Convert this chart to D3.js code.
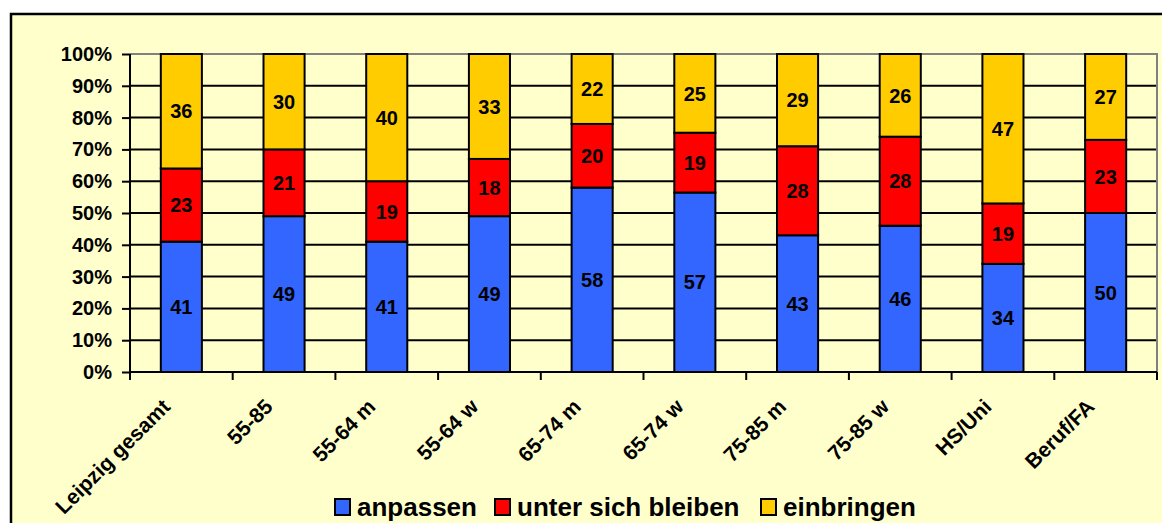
<!DOCTYPE html>
<html>
<head>
  <meta charset="utf-8">
  <script src="https://cdnjs.cloudflare.com/ajax/libs/d3/7.8.5/d3.min.js"></script>
  <title>Stacked bars</title>
  <style>
    body { margin: 0; background: #fff; }
    text { font-family: "Liberation Sans", Arial, sans-serif; font-weight: bold; fill: #000; }
  </style>
</head>
<body>
<script>
const categories = ["Leipzig gesamt", "55-85", "55-64 m", "55-64 w", "65-74 m", "65-74 w", "75-85 m", "75-85 w", "HS/Uni", "Beruf/FA"];
const anpassen = [41, 49, 41, 49, 58, 57, 43, 46, 34, 50];
const unterSich = [23, 21, 19, 18, 20, 19, 28, 28, 19, 23];
const einbringen = [36, 30, 40, 33, 22, 25, 29, 26, 47, 27];
const seriesNames = ["anpassen", "unter sich bleiben", "einbringen"];
const colors = ["#3366FF", "#FF0000", "#FFCC00"];
const yTicks = [0, 0.1, 0.2, 0.3, 0.4, 0.5, 0.6, 0.7, 0.8, 0.9, 1];

const W = 1162, H = 523;
const margin = {top: 54, left: 130, right: 5, bottom: 151};

const svg = d3.select("body").append("svg")
    .attr("width", W)
    .attr("height", H);

// chart area background + frame
svg.append("rect")
    .attr("x", 11).attr("y", 14)
    .attr("width", W + 10).attr("height", H + 10)
    .attr("fill", "#FFFFCC")
    .attr("stroke", "#000")
    .attr("stroke-width", 2.5);

const rows = categories.map((c, i) => ({cat: c, s0: anpassen[i], s1: unterSich[i], s2: einbringen[i]}));
const stack = d3.stack().keys(["s0", "s1", "s2"]).offset(d3.stackOffsetExpand);
const layers = stack(rows);

const x = d3.scaleBand()
    .domain(categories)
    .range([margin.left, 1157])
    .paddingInner(0.6)
    .paddingOuter(0.3);

const y = d3.scaleLinear()
    .domain([0, 1])
    .range([372, margin.top]);

// gridlines
svg.append("g").selectAll("line")
    .data(yTicks.slice(1, -1))
  .enter().append("line")
    .attr("x1", margin.left).attr("x2", 1157)
    .attr("y1", d => y(d)).attr("y2", d => y(d))
    .attr("stroke", "#000")
    .attr("stroke-width", 2);

// plot border top/right (grey)
svg.append("path")
    .attr("d", `M${margin.left},${y(1)}H1157V${y(0)}`)
    .attr("fill", "none")
    .attr("stroke", "#808080")
    .attr("stroke-width", 2);

// bars
const layerG = svg.append("g").selectAll("g")
    .data(layers)
  .enter().append("g")
    .attr("fill", (d, i) => colors[i]);

layerG.selectAll("rect")
    .data(d => d)
  .enter().append("rect")
    .attr("x", d => x(d.data.cat))
    .attr("y", d => y(d[1]))
    .attr("width", x.bandwidth())
    .attr("height", d => y(d[0]) - y(d[1]))
    .attr("stroke", "#000")
    .attr("stroke-width", 2);

// value labels
const raw = [anpassen, unterSich, einbringen];
layers.forEach((layer, li) => {
  svg.append("g").selectAll("text")
      .data(layer)
    .enter().append("text")
      .attr("x", d => x(d.data.cat) + x.bandwidth() / 2)
      .attr("y", d => y((d[0] + d[1]) / 2))
      .attr("dy", "0.36em")
      .attr("text-anchor", "middle")
      .style("font-size", "20px")
      .text((d, i) => raw[li][i]);
});

// y axis
const yAxis = d3.axisLeft(y)
    .tickValues(yTicks)
    .tickFormat(d3.format(".0%"))
    .tickSize(8)
    .tickPadding(10);

const gy = svg.append("g")
    .attr("transform", "translate(" + margin.left + ",0)")
    .call(yAxis);
gy.selectAll("line, path").attr("stroke", "#000").attr("stroke-width", 2);
gy.select(".domain").attr("d", `M-0,${y(1)}V${y(0)}`);
gy.selectAll("text").style("font-size", "20px").style("font-family", "'Liberation Sans', Arial, sans-serif").style("font-weight", "bold").attr("fill", "#000");

// x axis
const boundaries = d3.range(categories.length + 1).map(i => margin.left + (1157 - margin.left) * i / categories.length);
svg.append("line")
    .attr("x1", margin.left - 1).attr("x2", 1157)
    .attr("y1", y(0)).attr("y2", y(0))
    .attr("stroke", "#000").attr("stroke-width", 2);
svg.append("g").selectAll("line")
    .data(boundaries)
  .enter().append("line")
    .attr("x1", d => d).attr("x2", d => d)
    .attr("y1", y(0)).attr("y2", y(0) + 8)
    .attr("stroke", "#000").attr("stroke-width", 2);

svg.append("g").selectAll("text")
    .data(categories)
  .enter().append("text")
    .attr("transform", d => "translate(" + (x(d) + x.bandwidth() / 2 - 10) + "," + (y(0) + 36) + ") rotate(-45)")
    .attr("text-anchor", "end")
    .style("font-size", "21px")
    .text(d => d);

// legend
const legendX = [334, 494, 760];
const legend = svg.append("g").selectAll("g")
    .data(seriesNames)
  .enter().append("g")
    .attr("transform", (d, i) => "translate(" + legendX[i] + ",498)");
legend.append("rect")
    .attr("x", 1).attr("y", 1)
    .attr("width", 15).attr("height", 16)
    .attr("fill", (d, i) => colors[i])
    .attr("stroke", "#000")
    .attr("stroke-width", 2);
legend.append("text")
    .attr("x", 23)
    .attr("y", 18)
    .style("font-size", "26px")
    .text(d => d);
</script>
</body>
</html>
